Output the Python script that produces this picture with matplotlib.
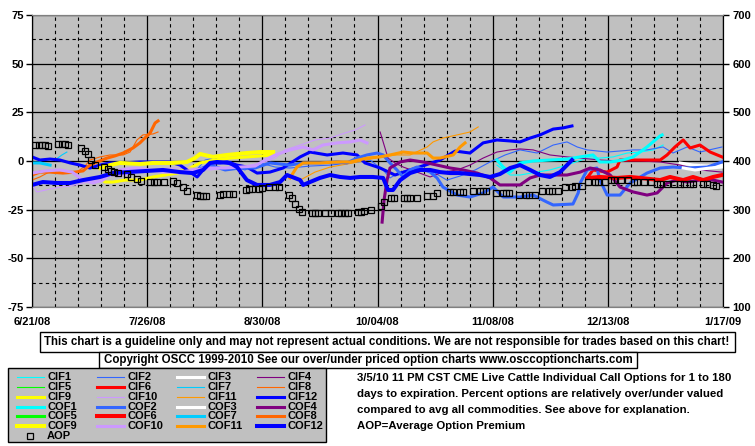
import matplotlib
matplotlib.use("Agg")
import matplotlib.pyplot as plt
from matplotlib.patches import Rectangle
from matplotlib.lines import Line2D
from matplotlib.ticker import MultipleLocator

plt.rcParams['font.family'] = ['Liberation Sans', 'DejaVu Sans']
plt.rcParams['font.weight'] = 'bold'

W, H = 755, 446

# x axis: days after 6/21/08
date_ticks = [0, 35, 70, 105, 140, 175, 210]
date_labels = ["6/21/08", "7/26/08", "8/30/08", "10/04/08", "11/08/08", "12/13/08", "1/17/09"]
left_ticks = [-75, -50, -25, 0, 25, 50, 75]
right_ticks = [100, 200, 300, 400, 500, 600, 700]

# ---- series (percent over/under valued, left axis) ----
cif12_d = [0, 2.4, 5.5, 8.5, 11.6, 14.6, 17.6, 20.7, 23.7, 27.7, 32.8, 35.9, 41.9, 45, 48, 50.2, 52, 54.1, 57.1, 59.3,
           62.3, 65.3, 68.4, 72.3, 76.3, 81.5, 84.5, 89.7, 94.5, 98.8, 101.2, 105.8, 110.3, 114.9, 119.5, 124, 128.6,
           133.1, 137.1, 141.3, 145.3, 148.3, 151.4, 154.4, 158.4, 161.4, 164.1]
cif12_v = [2.1, 0.5, 1.0, 0.5, -1.0, -2.1, -3.6, -2.1, -1.0, -1.0, -0.5, -0.5, -0.5, -2.1, -5.7, -8.2, -4.6, -1.0, -1.0,
           -0.5, -2.1, -3.1, -6.2, -5.7, -3.6, 2.1, 4.6, 3.1, 4.1, 3.1, -1.0, -3.6, -7.2, -4.6, -2.1, 0.5, 5.1, 4.1, 9.3,
           10.8, 10.3, 9.8, 11.8, 13.4, 16.4, 17.0, 18.0]

cof12_d = [0, 3.3, 7.6, 11.6, 15.5, 20.7, 24.6, 28.9, 35, 39.8, 45, 48.9, 52, 54.1, 56.2, 60.2, 62.3, 65.3, 68.4, 72.3,
           75.4, 77.5, 81.5, 82.4, 84.5, 87.5, 90.6, 93.6, 96.7, 99.7, 103.6, 106.7, 108.2, 109.7, 111.9, 114.9, 117.9,
           121, 124, 127.1, 130.1, 133.1, 136.2, 139.2, 142.2, 145.3, 148.3, 151.4, 154.4, 157.4, 160.5, 164.1]
cof12_v = [-12.3, -10.8, -11.3, -11.3, -9.8, -8.2, -6.2, -5.7, -5.1, -4.6, -5.7, -6.2, -4.6, -1.0, -0.5, -1.0, -3.1,
           -9.8, -12.3, -12.3, -10.8, -7.2, -9.8, -12.3, -10.8, -8.7, -7.2, -8.2, -8.7, -8.2, -8.2, -8.7, -14.9, -14.9,
           -9.8, -6.2, -4.6, -4.6, -5.7, -6.2, -6.2, -6.7, -7.2, -8.2, -6.7, -3.6, -2.1, -4.6, -7.2, -8.2, -5.7, 0.5]

cif9_d = [20.7, 22.2, 24.6, 28.3, 32.8, 36.8, 40.4, 44.1, 48, 51.1, 55.6, 60.2, 65.3, 69.3, 73.3]
cif9_v = [-8.7, -10.8, -10.8, -9.8, -9.8, -8.2, -7.2, -6.2, -3.6, -1.0, 0.5, 1.5, 2.1, 2.6, 3.1]
cof9_d = [20.7, 23.7, 26.7, 32.8, 36.8, 42.9, 47.1, 49.5, 51.1, 55, 59.3, 65.3, 69.3, 73.3]
cof9_v = [-3.6, -2.1, -1.0, -1.5, -1.0, -1.0, -0.5, 1.5, 3.6, 2.1, 3.1, 4.1, 4.6, 4.6]

cof8_d = [0, 2.4, 5.5, 9.4, 13.1, 15.5, 17.6, 19.8, 22.8, 25.2, 27.7, 30.7, 32.8, 34.3, 35.9, 37.4, 38.3]
cof8_v = [-7.2, -5.7, -5.7, -6.2, -5.7, -5.1, -2.1, -0.5, 1.5, 2.6, 4.1, 6.7, 9.3, 11.8, 14.4, 19.5, 20.6]
cif8_d = [0, 2.4, 4.6, 7, 10.6, 13.7, 16.1, 17.6, 20.7, 23.7, 27.7, 29.8, 31.9, 33.7, 36.8, 38.3]
cif8_v = [-9.8, -8.2, -6.2, -4.6, -5.1, -5.7, -2.6, 0.5, 2.1, 3.1, 3.1, 4.6, 10.8, 13.4, 13.9, 14.9]

cof10_d = [0, 4, 8.5, 12.2, 15.5, 18.5, 21.6, 23.7, 26.7, 31.3, 35.9, 40.4, 45, 49.5, 54.1, 58.7, 63.2, 67.8, 70.8,
           73.9, 78.4, 82.4, 85.4, 88.4, 92.7, 96.7, 99.7, 101.8]
cof10_v = [-6.2, -5.1, -4.6, -5.7, -9.8, -11.3, -9.8, -6.2, -4.6, -3.6, -4.6, -5.7, -5.7, -4.6, -3.6, -3.6, -3.1, -2.6,
           0.5, 3.1, 5.7, 7.2, 5.7, 8.2, 9.3, 9.8, 10.8, 9.3]
cif10_d = [0, 1.5, 5.5, 8.5, 11.6, 14.6, 19.1, 23.7, 28.3, 32.8, 37.4, 41.9, 48, 54.1, 60.2, 66.3, 70.8, 73.9, 76.9,
           81.5, 86, 90.6, 95.1, 98.2, 101.2]
cif10_v = [-12.3, -15.9, -14.4, -13.4, -12.9, -11.8, -9.8, -7.7, -7.2, -5.7, -4.6, -3.6, -3.6, -4.6, -3.6, -2.1, -0.5,
           1.5, 5.7, 8.2, 10.8, 11.8, 14.4, 15.9, 18.5]

cof1_d = [141.3, 143.2, 145.3, 148.3, 152.3, 157.4, 162.6, 166.6, 170.5, 172.6, 175.7, 179.6, 182.7, 186.9, 190.9, 191.5]
cof1_v = [0.5, -3.1, -5.7, -1.0, 0, 0.5, 1.0, 2.1, 3.1, -0.5, -0.5, 0.5, 2.1, 7.2, 12.9, 13.4]
cif1_d = [141.3, 145.3, 148.3, 153.5, 157.4, 160.5, 164.4, 168.7, 172.6, 176.6, 180.9, 184.8, 188.8, 191.8]
cif1_v = [-2.1, -7.2, -7.2, -5.7, -4.6, -3.1, -1.0, 1.5, 1.5, 2.1, 4.1, 4.6, 5.7, 8.2]

cof7_d = [0, 2.4, 5.5]
cof7_v = [-1.0, -1.0, -2.1]
cif7_d = [7, 9.1, 10.6]
cif7_v = [0.5, 3.1, 4.6]

cif4_d = [105.8, 107, 108.2, 110.3, 112.8, 117, 121, 124.9, 129.2, 133.1, 137.1, 141.3, 145.3, 148.3, 152.3, 157.4,
          162.6, 166.6, 172.6, 178.7, 184.8, 190.9, 197, 203, 209.7]
cif4_v = [14.9, 8.2, 1.5, -1.0, -3.1, -5.7, -8.2, -5.7, -4.6, -2.1, 1.5, 4.6, 5.7, 6.2, 5.7, 3.1, 2.1, 1.5, 0.5, 0, 0,
          -0.5, -2.1, -4.6, -5.7]
cof4_d = [106.4, 107, 107.9, 108.8, 111.9, 114.9, 118.8, 123.1, 127.1, 131, 135.3, 139.2, 142.2, 145.3, 148.3, 151.4,
          154.4, 162.6, 166.6, 169.6, 172.6, 175.7, 178.7, 182.7, 186.9, 190, 193, 196, 199.1, 203, 207, 209.7]
cof4_v = [-31.4, -20, -9.8, -3.6, -0.5, 0.5, -0.5, -2.1, -3.6, -4.6, -6.2, -8.7, -12.3, -12.3, -12.3, -8.7, -7.2,
          -7.2, -5.7, -3.6, -4.6, -7.2, -13.4, -15.9, -17.5, -16.4, -11.3, -9.8, -10.8, -9.8, -9.8, -10.8]

cif2_d = [49.5, 52.6, 55.6, 60.2, 64.7, 69.3, 73.9, 78.4, 84.5, 90.6, 96.7, 102.7, 106.7, 108.8, 111.9, 116.4, 121.9,
          126.1, 130.1, 134.7, 139.2, 143.8, 148.3, 153.5, 158.4, 162.6, 165.7, 168.7, 174.8, 182.7, 186.9, 191.8,
          194.8, 199.1, 203, 209.7]
cif2_v = [-5.7, 0.5, 1.5, -2.1, -4.6, -1.0, -3.1, -3.6, -2.6, -2.1, -1.0, 0.5, -4.6, -8.7, -5.7, -3.6, -5.7, -9.8,
          -7.7, -4.6, -0.5, 3.1, 5.7, 4.1, 8.2, 9.8, 7.2, 5.7, 4.6, 5.7, 5.7, 7.2, 4.1, 7.2, 4.6, 7.2]
cof2_d = [50.2, 54.1, 58.7, 63.2, 67.8, 72.3, 78.4, 82.4, 87.5, 92.7, 95.7, 98.8, 101.8, 104.9, 106.7, 108.8, 110.9,
          112.8, 114.9, 117, 121, 123.1, 124.9, 129.2, 133.1, 137.1, 140.1, 143.2, 148.3, 152.3, 156.5, 158.4, 164.4,
          166, 166.6, 168.7, 171.7, 172.6, 174.8, 178.7, 181.8, 186.9, 190.9, 194.8, 199.1, 205.2, 209.7]
cof2_v = [-4.6, -2.1, -4.6, -3.6, -3.6, -1.0, -2.1, -1.0, -1.0, -0.5, -1.0, 1.5, 3.1, 4.1, 3.1, -1.0, -4.6, -8.2,
          -4.6, -3.1, -5.7, -8.7, -13.4, -17.5, -18.5, -16.4, -13.4, -18.5, -18.5, -17.5, -21.1, -22.6, -22.1, -16.4,
          -11.3, -4.6, -3.6, -9.8, -17.5, -17.5, -11.3, -6.2, -3.6, -3.1, -3.6, -3.1, -0.5]

cof11_d = [78.4, 80.5, 82.4, 87.5, 92.7, 96.7, 101.8, 105.8, 108.8, 112.8, 115.8, 120.1, 121.9, 124, 128, 130.1, 131.6]
cof11_v = [-8.7, -3.1, -1.0, -1.0, -0.5, -0.5, 1.5, 2.1, 3.1, 4.6, 4.1, 4.1, 1.5, 1.5, 3.1, 7.2, 9.3]
cif11_d = [81.5, 86, 90.6, 97.6, 105.8, 110.9, 114.9, 120.1, 121.9, 124.9, 129.2, 133.1, 135.6]
cif11_v = [-9.8, -5.7, -3.1, -1.0, 2.1, 3.1, 3.1, 7.2, 9.8, 11.8, 13.4, 14.9, 17.5]

cif6_d = [168.7, 170.5, 174.8, 177.8, 178.7, 182.7, 186.9, 190.9, 193, 195.4, 197.9, 200, 203, 206.1, 209.7]
cif6_v = [-8.7, -4.6, -5.7, -3.1, 0.5, 0.5, 0.5, 0.5, 3.1, 7.2, 10.8, 6.7, 8.2, 4.6, 2.1]
cof6_d = [169, 172.6, 177.8, 181.8, 184.8, 190.9, 193.9, 197.9, 200.9, 204, 207, 209.7]
cof6_v = [-8.7, -8.2, -8.7, -8.2, -8.7, -9.8, -8.2, -9.8, -8.2, -9.8, -8.2, -7.2]

cif3_d = [197, 200.9, 205.2, 209.7]
cif3_v = [-1.0, -2.1, -2.6, -2.1]
cof3_d = [197.9, 201.5, 206.1, 209.7]
cof3_v = [-3.6, -4.6, -3.6, -3.1]

# average option premium (right axis)
aop_d = [1, 2, 3, 4, 5, 8, 9, 10, 11, 15, 16, 17, 18, 19, 22, 23, 24, 25, 26, 29, 30, 32, 33, 36, 37, 38, 40, 43, 44,
         46, 47, 50, 51, 52, 53, 57, 58, 60, 61, 65, 66, 67, 69, 70, 72, 74, 75, 78, 79, 80, 81, 82, 85, 86, 87, 89,
         91, 93, 94, 95, 96, 99, 100, 101, 103, 106, 107, 109, 110, 113, 114, 115, 117, 120, 122, 123, 127, 128, 130,
         131, 134, 136, 137, 138, 141, 143, 144, 145, 148, 150, 151, 153, 155, 157, 158, 160, 162, 164, 165, 167, 169,
         171, 172, 174, 176, 177, 179, 181, 183, 184, 186, 188, 190, 191, 193, 195, 197, 198, 200, 201, 204, 205, 207,
         208]
aop_v = [433, 433, 433, 433, 431, 435, 435, 435, 433, 427, 421, 415, 402, 392, 388, 384, 380, 378, 376, 374, 368, 363,
         359, 357, 357, 357, 357, 359, 355, 347, 339, 331, 329, 329, 329, 331, 333, 333, 333, 341, 343, 343, 343, 345,
         347, 347, 347, 331, 323, 312, 302, 296, 294, 294, 294, 294, 294, 294, 294, 294, 294, 296, 296, 298, 300, 308,
         316, 323, 323, 325, 325, 325, 325, 329, 329, 335, 337, 337, 337, 337, 339, 339, 339, 339, 335, 335, 335, 335,
         331, 331, 331, 331, 339, 339, 339, 339, 347, 347, 349, 349, 357, 357, 357, 357, 361, 361, 361, 361, 357, 357,
         357, 357, 353, 353, 353, 353, 353, 353, 353, 353, 353, 353, 351, 349]

# name, days, values, colour, width
series = [
    ("CIF1", cif1_d, cif1_v, "#00FFFF", 0.8),
    ("CIF2", cif2_d, cif2_v, "#3366FF", 0.8),
    ("CIF3", cif3_d, cif3_v, "#FFFFFF", 2.2),
    ("CIF4", cif4_d, cif4_v, "#800080", 0.8),
    ("CIF5", [], [], "#00FF00", 0.8),
    ("CIF6", cif6_d, cif6_v, "#FF0000", 2.2),
    ("CIF7", cif7_d, cif7_v, "#00CCFF", 0.8),
    ("CIF8", cif8_d, cif8_v, "#FF6600", 0.8),
    ("CIF9", cif9_d, cif9_v, "#FFFF00", 2.2),
    ("CIF10", cif10_d, cif10_v, "#CC99FF", 0.8),
    ("CIF11", cif11_d, cif11_v, "#FF9900", 0.8),
    ("CIF12", cif12_d, cif12_v, "#0000FF", 2.2),
    ("COF1", cof1_d, cof1_v, "#00FFFF", 2.2),
    ("COF2", cof2_d, cof2_v, "#3366FF", 2.2),
    ("COF3", cof3_d, cof3_v, "#FFFFFF", 2.2),
    ("COF4", cof4_d, cof4_v, "#800080", 2.2),
    ("COF5", [], [], "#00FF00", 2.2),
    ("COF6", cof6_d, cof6_v, "#FF0000", 2.9),
    ("COF7", cof7_d, cof7_v, "#00CCFF", 2.2),
    ("COF8", cof8_d, cof8_v, "#FF6600", 2.2),
    ("COF9", cof9_d, cof9_v, "#FFFF00", 2.9),
    ("COF10", cof10_d, cof10_v, "#CC99FF", 2.2),
    ("COF11", cof11_d, cof11_v, "#FF9900", 2.2),
    ("COF12", cof12_d, cof12_v, "#0000FF", 2.9),
]

fig = plt.figure(figsize=(W / 100, H / 100), dpi=100)
fig.patch.set_facecolor("white")


def fx(x):
    return x / W


def fy(y):
    return 1 - y / H


ax = fig.add_axes([fx(32), fy(307), fx(723) - fx(32), fy(15) - fy(307)])
ax.set_facecolor("#C0C0C0")
ax.set_xlim(0, 210)
ax.set_ylim(-75, 75)

ax.set_xticks(date_ticks)
ax.set_xticklabels(date_labels)
ax.xaxis.set_minor_locator(MultipleLocator(7))
ax.set_yticks(left_ticks)
ax.set_yticklabels([str(t) for t in left_ticks])
ax.yaxis.set_minor_locator(MultipleLocator(12.5))

ax.grid(which="major", color="black", lw=0.9, ls="-")
ax.grid(which="minor", color="black", lw=0.8, ls=(0, (3, 3)))
ax.set_axisbelow(True)

ax.tick_params(axis="x", which="both", length=0, pad=7, labelsize=8)
ax.tick_params(axis="y", which="major", direction="out", length=4, width=1, labelsize=8, pad=2,
               left=True, right=False)
ax.tick_params(axis="y", which="minor", length=0)
for lab in ax.get_xticklabels() + ax.get_yticklabels():
    lab.set_fontweight("bold")

for name, d, v, c, lw in series:
    if d:
        ax.plot(d, v, color=c, lw=lw, solid_joinstyle="round", zorder=3)

ax2 = ax.twinx()
ax2.set_ylim(100, 700)
ax2.set_yticks(right_ticks)
ax2.set_yticklabels([str(t) for t in right_ticks])
ax2.tick_params(axis="y", direction="out", length=4, width=1, labelsize=8, pad=3)
for lab in ax2.get_yticklabels():
    lab.set_fontweight("bold")
ax2.plot(aop_d, aop_v, ls="none", marker="s", ms=5, mfc="none", mec="black", mew=0.9)

for a in (ax, ax2):
    a.spines["left"].set_color("black")
    a.spines["right"].set_color("black")
    a.spines["top"].set_color("#808080")
    a.spines["bottom"].set_color("#808080")

# boxes under the chart
fig.patches.append(Rectangle((fx(40), fy(352)), fx(735) - fx(40), fy(332) - fy(352), transform=fig.transFigure,
                             facecolor="white", edgecolor="black", lw=1))
fig.text(fx(387), fy(342), "This chart is a guideline only and may not represent actual conditions. "
         "We are not responsible for trades based on this chart!",
         ha="center", va="center", fontsize=8.3, fontweight="bold")
fig.patches.append(Rectangle((fx(99), fy(368)), fx(637) - fx(99), fy(352) - fy(368), transform=fig.transFigure,
                             facecolor="white", edgecolor="black", lw=1))
fig.text(fx(368), fy(360), "Copyright OSCC 1999-2010 See our over/under priced option charts www.osccoptioncharts.com",
         ha="center", va="center", fontsize=8.3, fontweight="bold")

# legend
fig.patches.append(Rectangle((fx(8), fy(442)), fx(326) - fx(8), fy(368) - fy(442), transform=fig.transFigure,
                             facecolor="#C0C0C0", edgecolor="black", lw=1))
col_x = [17, 97, 177, 257]
row_y = [377, 387, 397, 407, 416, 426]
for i, (name, d, v, c, lw) in enumerate(series):
    r, k = divmod(i, 4)
    x0 = col_x[k]
    fig.lines.append(Line2D([fx(x0), fx(x0 + 27)], [fy(row_y[r]), fy(row_y[r])], transform=fig.transFigure,
                            color=c, lw=lw))
    fig.text(fx(x0 + 30), fy(row_y[r]), name, ha="left", va="center", fontsize=8, fontweight="bold")
fig.lines.append(Line2D([fx(30)], [fy(436)], transform=fig.transFigure, ls="none", marker="s", ms=5,
                        mfc="none", mec="black", mew=0.9))
fig.text(fx(47), fy(436), "AOP", ha="left", va="center", fontsize=8, fontweight="bold")

note = ["3/5/10 11 PM CST CME Live Cattle Individual Call Options for 1 to 180",
        "days to expiration. Percent options are relatively over/under valued",
        "compared to avg all commodities. See above for explanation.",
        "AOP=Average Option Premium"]
for i, line in enumerate(note):
    fig.text(fx(357), fy(378 + 16 * i), line, ha="left", va="center", fontsize=8.2, fontweight="bold")

fig.savefig("out.png", dpi=100)
